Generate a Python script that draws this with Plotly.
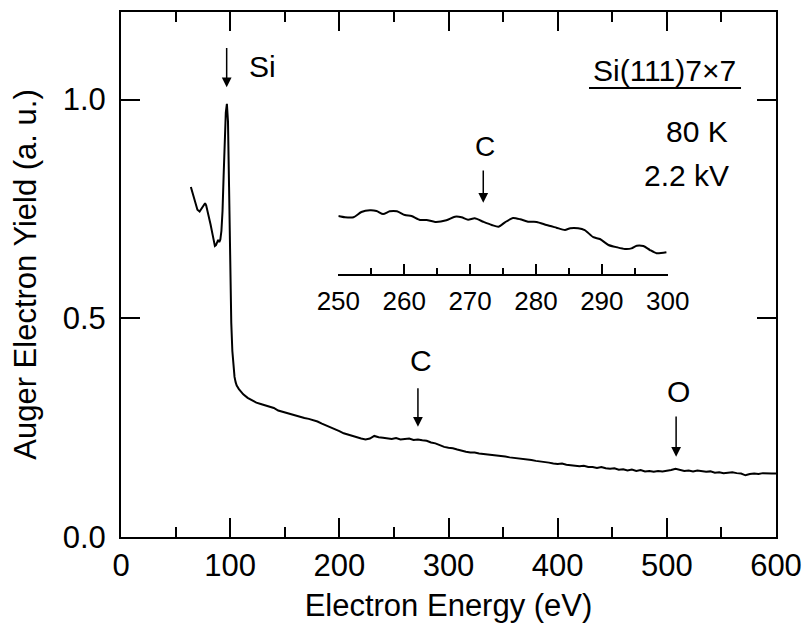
import plotly.graph_objects as go

# Auger electron spectrum of Si(111)7x7 at 80 K, 2.2 kV primary beam
energy_ev = [
    64, 66, 68, 70, 72, 74, 76, 77, 78, 80, 82, 84, 85, 86, 87, 88, 89, 90,
    91, 92, 93, 94, 95, 96, 97, 98, 99, 100, 101, 102, 103, 104, 105, 106,
    108, 110,
    112, 116, 120, 124, 128, 132, 136, 140, 144, 148, 152, 156, 160, 164,
    168, 172, 176, 180, 184, 188, 192, 196, 200, 204, 208, 212, 216, 220,
    224, 228, 232, 236, 240, 244, 248, 252, 256, 260, 264, 268, 272, 276,
    280, 284, 288, 292, 296, 300, 304, 308, 312, 316, 320, 324, 328, 332,
    336, 340, 344, 348, 352, 356, 360, 364, 368, 372, 376, 380, 384, 388,
    392, 396, 400, 404, 408, 412, 416, 420, 424, 428, 432, 436, 440, 444,
    448, 452, 456, 460, 464, 468, 472, 476, 480, 484, 488, 492, 496, 500,
    504, 508, 512, 516, 520, 524, 528, 532, 536, 540, 544, 548, 552, 556,
    560, 564, 568, 572, 576, 580, 584, 588, 592, 596, 600,
]
auger_yield = [
    0.800, 0.783, 0.764, 0.748, 0.744, 0.752, 0.761, 0.763, 0.758, 0.738,
    0.715, 0.690, 0.675, 0.665, 0.667, 0.676, 0.679, 0.674, 0.680, 0.700,
    0.745, 0.825, 0.905, 0.970, 0.990, 0.950, 0.800, 0.630, 0.490, 0.425,
    0.388, 0.366, 0.354, 0.346, 0.338, 0.332,
    0.326, 0.318, 0.312, 0.307, 0.304, 0.301, 0.299, 0.295, 0.289, 0.286,
    0.283, 0.281, 0.277, 0.274, 0.272, 0.270, 0.267, 0.264, 0.259, 0.255,
    0.250, 0.246, 0.242, 0.237, 0.234, 0.230, 0.228, 0.225, 0.223, 0.225,
    0.231, 0.228, 0.227, 0.225, 0.224, 0.226, 0.223, 0.224, 0.225, 0.222,
    0.223, 0.221, 0.220, 0.216, 0.214, 0.210, 0.206, 0.204, 0.203, 0.200,
    0.197, 0.195, 0.193, 0.193, 0.191, 0.190, 0.189, 0.188, 0.186, 0.185,
    0.184, 0.182, 0.181, 0.180, 0.178, 0.177, 0.176, 0.174, 0.173, 0.171,
    0.170, 0.168, 0.167, 0.168, 0.165, 0.164, 0.163, 0.162, 0.163, 0.160,
    0.160, 0.158, 0.160, 0.157, 0.156, 0.157, 0.154, 0.155, 0.152, 0.154,
    0.151, 0.153, 0.150, 0.151, 0.149, 0.151, 0.150, 0.151, 0.153, 0.156,
    0.154, 0.151, 0.152, 0.150, 0.152, 0.151, 0.149, 0.150, 0.147, 0.148,
    0.146, 0.147, 0.148, 0.146, 0.145, 0.141, 0.144, 0.145, 0.144, 0.146,
    0.145, 0.145, 0.145,
]

# Magnified view of the C KLL region
inset_energy_ev = [
    250.0, 251.0, 252.3, 253.5, 254.8, 255.8, 256.8, 257.8, 258.9, 260.1,
    261.1, 262.4, 263.4, 264.7, 266.4, 267.7, 268.7, 269.7, 270.7, 272.0,
    273.3, 274.3, 275.3, 276.5, 277.6, 278.8, 280.1, 281.6, 283.1, 284.4,
    285.2, 286.4, 287.4, 288.7, 289.7, 291.0, 292.3, 293.5, 294.5, 295.3,
    296.3, 297.3, 298.3, 299.8,
]
inset_yield = [
    0.2234, 0.2227, 0.2227, 0.2256, 0.2266, 0.2262, 0.2245, 0.2260, 0.2260,
    0.2239, 0.2234, 0.2212, 0.2212, 0.2201, 0.2210, 0.2230, 0.2227, 0.2213,
    0.2221, 0.2202, 0.2184, 0.2174, 0.2199, 0.2223, 0.2216, 0.2202, 0.2201,
    0.2184, 0.2169, 0.2156, 0.2166, 0.2166, 0.2156, 0.2116, 0.2106, 0.2073,
    0.2060, 0.2051, 0.2054, 0.2069, 0.2067, 0.2045, 0.2027, 0.2032,
]

FONT = "Liberation Sans, Arial, Helvetica, sans-serif"
AXIS_FONT_SIZE = 31

fig = go.Figure()
fig.add_trace(go.Scatter(
    x=energy_ev, y=auger_yield, mode="lines",
    line=dict(color="black", width=2), showlegend=False,
))
fig.add_trace(go.Scatter(
    x=inset_energy_ev, y=inset_yield, mode="lines",
    line=dict(color="black", width=2, shape="spline", smoothing=0.6),
    xaxis="x2", yaxis="y2", showlegend=False,
))

axis_common = dict(
    showline=True, linecolor="black", linewidth=2, mirror="ticks",
    ticks="inside", tickcolor="black", tickwidth=2, ticklen=19,
    showgrid=False, zeroline=False, automargin=False,
    tickfont=dict(family=FONT, size=AXIS_FONT_SIZE, color="black"),
)

fig.update_layout(
    width=804, height=627,
    margin=dict(l=121, r=28, t=12, b=90),
    paper_bgcolor="white", plot_bgcolor="white",
    font=dict(family=FONT, size=30, color="black"),
    xaxis=dict(
        range=[0, 600], dtick=100, tick0=0,
        minor=dict(dtick=50, ticks="inside", ticklen=10, tickwidth=2,
                   tickcolor="black"),
        title=dict(text="Electron Energy (eV)",
                   font=dict(family=FONT, size=AXIS_FONT_SIZE), standoff=12),
        **axis_common,
    ),
    yaxis=dict(
        range=[0, 1.2], tickvals=[0, 0.5, 1.0], tickformat=".1f",
        ticklabelstandoff=7,
        title=dict(text="Auger Electron Yield (a. u.)",
                   font=dict(family=FONT, size=AXIS_FONT_SIZE), standoff=17),
        **axis_common,
    ),
    xaxis2=dict(
        domain=[0.3318, 0.8347], anchor="y2", range=[250, 300],
        dtick=10, tick0=250, automargin=False,
        showline=True, linecolor="black", linewidth=2,
        ticks="inside", ticklen=10, tickwidth=2, tickcolor="black",
        minor=dict(dtick=5, ticks="inside", ticklen=6, tickwidth=2,
                   tickcolor="black"),
        showgrid=False, zeroline=False, ticklabelstandoff=3,
        tickfont=dict(family=FONT, size=26, color="black"),
    ),
    yaxis2=dict(
        domain=[0.501, 0.642], anchor="x2", range=[0.1912, 0.2323],
        visible=False,
    ),
)

# Underline beneath the sample label
fig.add_shape(type="line", xref="paper", yref="paper",
              x0=0.7145, x1=0.9466, y0=0.8552, y1=0.8552,
              line=dict(color="black", width=2))

arrow = dict(showarrow=True, arrowhead=2, arrowsize=1.3, arrowwidth=1.5,
             arrowcolor="black", text="", standoff=0)

annotations = [
    # peak markers: Si LVV, C KLL, O KLL
    dict(x=96.8, y=1.028, ax=96.8, ay=1.121, xref="x", yref="y",
         axref="x", ayref="y", **arrow),
    dict(x=272, y=0.252, ax=272, ay=0.3435, xref="x", yref="y",
         axref="x", ayref="y", **arrow),
    dict(x=508.5, y=0.1835, ax=508.5, ay=0.279, xref="x", yref="y",
         axref="x", ayref="y", **arrow),
    dict(x=272, y=0.2308, ax=272, ay=0.2495, xref="x2", yref="y2",
         axref="x2", ayref="y2", **arrow),
]
labels = [
    ("Si", 0.1924, 0.8971, "left", 30),
    ("Si(111)7×7", 0.8305, 0.8895, "center", 30),
    ("80 K", 0.9298, 0.7724, "right", 30),
    ("2.2 kV", 0.9313, 0.6895, "right", 30),
    ("C", 0.458, 0.3371, "center", 30),
    ("O", 0.8504, 0.2768, "center", 30),
    ("C", 0.5557, 0.7429, "center", 28),
]
for text, x, y, xanchor, size in labels:
    annotations.append(dict(
        text=text, x=x, y=y, xref="paper", yref="paper",
        xanchor=xanchor, yanchor="middle", showarrow=False,
        font=dict(family=FONT, size=size, color="black"),
    ))
fig.update_layout(annotations=annotations)

fig.write_html("out.html")
